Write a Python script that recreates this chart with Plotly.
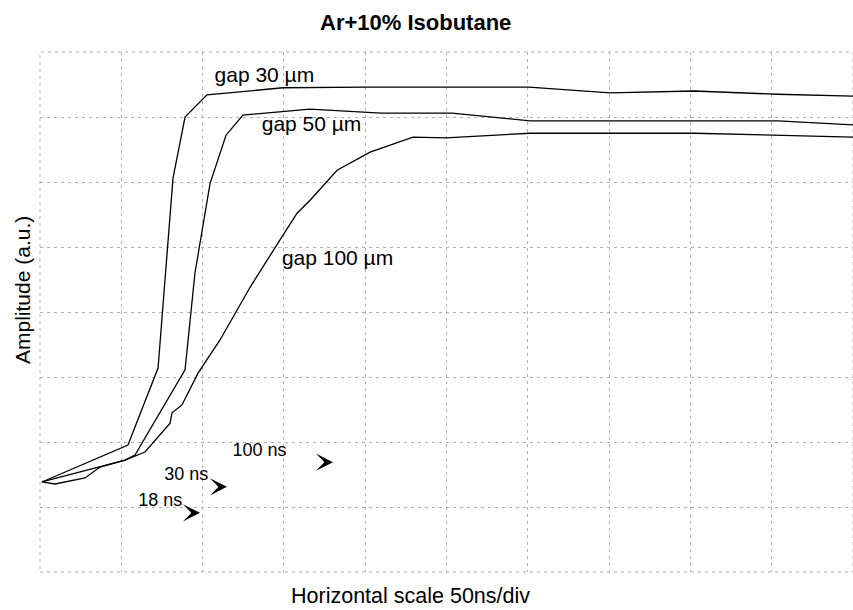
import plotly.graph_objects as go

# time in ns (50 ns/div), amplitude in divisions (a.u.)
gap30_t = [1.2, 54.1, 72.6, 81.8, 89.2, 102.7, 149.4, 200.5, 300.7, 350.6, 402.2, 453.3, 500]
gap30_a = [1.385, 1.954, 3.138, 6.06, 7.0, 7.34, 7.45, 7.46, 7.46, 7.37, 7.40, 7.35, 7.32]

gap50_t = [1.2, 52.3, 58.4, 89.2, 95.3, 104.6, 114.4, 124.8, 166.0, 209.7, 253.4, 301.4, 453.9, 500]
gap50_a = [1.385, 1.72, 1.80, 3.11, 4.6, 5.98, 6.72, 7.03, 7.12, 7.06, 7.06, 6.94, 6.94, 6.88]

gap100_t = [1.2, 9.2, 27.7, 36.9, 52.3, 64.6, 80.0, 81.2, 87.3, 97.2, 110.7, 129.2, 147.6,
            158.1, 166.1, 182.7, 203.0, 229.4, 249.7, 301.4, 402.2, 500]
gap100_a = [1.385, 1.354, 1.446, 1.615, 1.72, 1.846, 2.29, 2.45, 2.57, 3.06, 3.57, 4.38, 5.11,
            5.52, 5.72, 6.18, 6.46, 6.69, 6.68, 6.75, 6.75, 6.69]

curve_labels = ["gap 30 µm", "gap 50 µm", "gap 100 µm"]
curve_label_t = [138, 167, 183]
curve_label_a = [7.62, 6.86, 4.8]

rise_labels = ["100 ns", "30 ns", "18 ns"]
rise_label_t = [135, 90, 74]
rise_label_a = [1.85, 1.49, 1.08]
arrow_t = [180.2, 115.0, 98.4]
arrow_a = [1.69, 1.31, 0.91]

FONT = "Liberation Sans"

fig = go.Figure()
line_style = dict(color="black", width=1.3)
for t, a, name in [(gap30_t, gap30_a, curve_labels[0]),
                   (gap50_t, gap50_a, curve_labels[1]),
                   (gap100_t, gap100_a, curve_labels[2])]:
    fig.add_trace(go.Scatter(x=t, y=a, mode="lines", line=line_style, name=name,
                             showlegend=False, hoverinfo="skip"))

fig.add_trace(go.Scatter(x=curve_label_t, y=curve_label_a, mode="text", text=curve_labels,
                         textfont=dict(family=FONT, size=21, color="black"),
                         showlegend=False, hoverinfo="skip"))
fig.add_trace(go.Scatter(x=rise_label_t, y=rise_label_a, mode="text", text=rise_labels,
                         textfont=dict(family=FONT, size=18, color="black"),
                         showlegend=False, hoverinfo="skip"))

annotations = []
for t, a in zip(arrow_t, arrow_a):
    annotations.append(dict(x=t, y=a, xref="x", yref="y", text="", showarrow=True,
                            arrowhead=3, arrowsize=1.9, arrowwidth=1.5, arrowcolor="black",
                            ax=-8, ay=0, standoff=0))

annotations += [
    dict(text="<b>Ar+10% Isobutane</b>", xref="paper", yref="paper", x=(415 - 40) / 813,
         y=(572 - 23) / 520, xanchor="center", yanchor="middle", showarrow=False,
         font=dict(family=FONT, size=22, color="black")),
    dict(text="Horizontal scale 50ns/div", xref="paper", yref="paper", x=(410 - 40) / 813,
         y=(572 - 596) / 520, xanchor="center", yanchor="middle", showarrow=False,
         font=dict(family=FONT, size=21.5, color="black")),
    dict(text="Amplitude (a.u.)", xref="paper", yref="paper", x=(22 - 40) / 813,
         y=(572 - 290) / 520, xanchor="center", yanchor="middle", showarrow=False,
         textangle=-90, font=dict(family=FONT, size=21, color="black")),
]

grid = dict(showgrid=True, gridcolor="#b0b0b0", gridwidth=1, griddash="3px,4px",
            showticklabels=False, ticks="", zeroline=False, showline=False)

fig.update_layout(
    width=853, height=610,
    margin=dict(l=40, r=0, t=52, b=38),
    paper_bgcolor="white", plot_bgcolor="white",
    xaxis=dict(range=[0, 500], dtick=50, tick0=0, **grid),
    yaxis=dict(range=[0, 8], dtick=1, tick0=0, **grid),
    annotations=annotations,
    shapes=[dict(type="rect", xref="paper", yref="paper", x0=0, y0=0, x1=1, y1=1,
                 line=dict(color="#b0b0b0", width=1, dash="3px,4px"), layer="below")],
)

fig.write_html("out.html")
